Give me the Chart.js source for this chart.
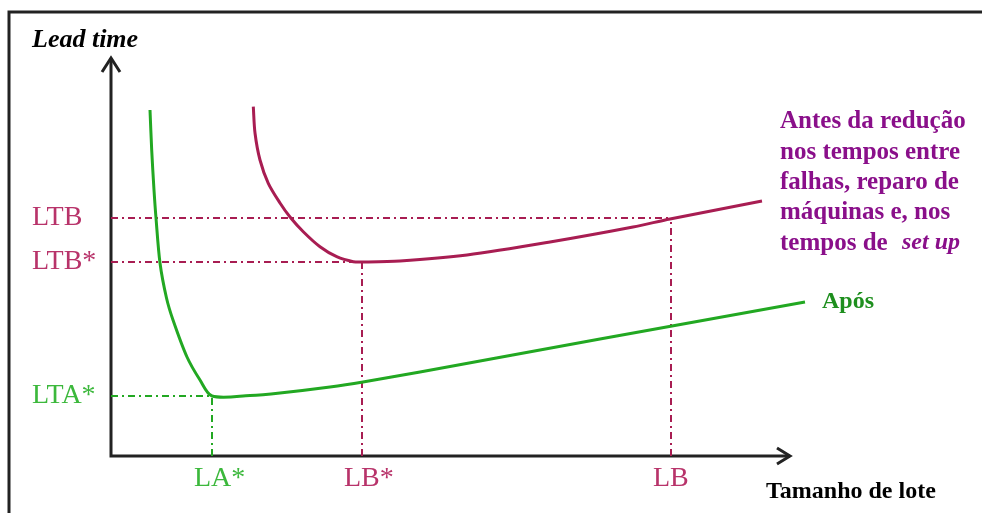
<!DOCTYPE html>
<html>
<head>
<meta charset="utf-8">
<script src="https://cdn.jsdelivr.net/npm/chart.js@4"></script>
<style>
html,body{margin:0;padding:0;background:#fff}
canvas{display:block}
</style>
</head>
<body>
<canvas id="c" width="982" height="513"></canvas>
<script>
// lot size (x) and lead time (y) in arbitrary units
const aposX = [3.9, 4.07, 4.3, 4.5, 4.9, 5.55, 6.2, 7.6, 8.9, 10.1, 13.9, 16.9, 21.9, 25.2, 30.9, 48.9, 69.4]
const aposY = [34.6, 30.6, 26.6, 23.8, 19.3, 15.8, 13.6, 9.9, 7.6, 6.0, 6.05, 6.3, 6.9, 7.4, 8.4, 11.7, 15.4]

const antesX = [14.23, 14.4, 14.9, 15.73, 16.9, 17.9, 19.23, 20.9, 22.57, 24.23, 25.2, 28.9, 35.6, 43.9, 52.2, 55.9, 65.1]
const antesY = [34.93, 32.3, 29.6, 27.27, 25.3, 23.9, 22.43, 20.93, 19.93, 19.43, 19.4, 19.5, 20.1, 21.4, 22.9, 23.7, 25.5]

const yTickLabels = ["LTB", "LTB*", "LTA*"]
const yTickValues = [23.8, 19.4, 6.0]
const xTickLabels = ["LA*", "LB*", "LB"]
const xTickValues = [10.1, 25.1, 56.0]

const antesText = ["Antes da redução", "nos tempos entre", "falhas, reparo de", "máquinas e, nos", "tempos de"]

const RED = "#a81d52"
const RED_TXT = "#b8336a"
const GREEN = "#22a822"
const GREEN_TXT = "#3cb83c"
const DASH = [7, 4, 2, 4]

function pts(xs, ys){
  return xs.map((x,i)=>({x:x, y:ys[i]}))
}

function guide(x0,y0,x1,y1,color){
  return {
    data:[{x:x0,y:y0},{x:x1,y:y1}],
    borderColor:color, borderWidth:2, borderDash:DASH,
    pointRadius:0, tension:0, showLine:true
  }
}

// LTB, LTB*, LTA* horizontals and LB, LB*, LA* verticals
const guides = [
  guide(0, yTickValues[0], xTickValues[2], yTickValues[0], RED),
  guide(0, yTickValues[1], xTickValues[1], yTickValues[1], RED),
  guide(0, yTickValues[2], xTickValues[0], yTickValues[2], GREEN),
  guide(xTickValues[2], 0, xTickValues[2], yTickValues[0], RED),
  guide(xTickValues[1], 0, xTickValues[1], yTickValues[1], RED),
  guide(xTickValues[0], 0, xTickValues[0], yTickValues[2], GREEN)
]

const decor = {
  id:"decor",
  beforeDatasetsDraw(chart){
    const ctx = chart.ctx
    const xs = chart.scales.x, ys = chart.scales.y
    const ox = xs.getPixelForValue(0), oy = ys.getPixelForValue(0)
    ctx.save()
    // frame
    ctx.strokeStyle="#222"
    ctx.lineWidth=3
    ctx.beginPath()
    ctx.moveTo(9,513); ctx.lineTo(9,12); ctx.lineTo(982,12)
    ctx.stroke()
    // axes with arrows
    const top = ys.getPixelForValue(39.8)
    const right = xs.getPixelForValue(67.9)
    ctx.lineWidth=3
    ctx.beginPath()
    ctx.moveTo(ox,top); ctx.lineTo(ox,oy); ctx.lineTo(right,oy)
    ctx.stroke()
    ctx.beginPath()
    ctx.moveTo(ox-9,top+14); ctx.lineTo(ox,top); ctx.lineTo(ox+9,top+14)
    ctx.moveTo(right-13,oy-8); ctx.lineTo(right,oy); ctx.lineTo(right-13,oy+8)
    ctx.stroke()
    ctx.restore()
  },
  afterDatasetsDraw(chart){
    const ctx = chart.ctx
    const xs = chart.scales.x, ys = chart.scales.y
    ctx.save()
    ctx.textBaseline="middle"
    ctx.textAlign="left"
    // y tick labels
    ctx.font="28px 'Liberation Serif'"
    yTickLabels.forEach((t,i)=>{
      ctx.fillStyle = i<2 ? RED_TXT : GREEN_TXT
      ctx.fillText(t, 32, ys.getPixelForValue(yTickValues[i]))
    })
    // x tick labels
    xTickLabels.forEach((t,i)=>{
      ctx.fillStyle = i==0 ? GREEN_TXT : RED_TXT
      ctx.fillText(t, xs.getPixelForValue(xTickValues[i])-18, 479)
    })
    // axis titles
    ctx.fillStyle="#000"
    ctx.font="bold italic 26px 'Liberation Serif'"
    ctx.fillText("Lead time", 32, 40)
    ctx.font="bold 24px 'Liberation Serif'"
    ctx.fillText("Tamanho de lote", 766, 492)
    // series notes
    ctx.fillStyle="#8a0f8a"
    ctx.font="bold 25px 'Liberation Serif'"
    antesText.forEach((t,i)=>{
      ctx.fillText(t, 780, 122 + i*30.3)
    })
    ctx.font="bold italic 24px 'Liberation Serif'"
    ctx.fillText("set up", 902, 243)
    ctx.fillStyle="#1e8f1e"
    ctx.font="bold 24px 'Liberation Serif'"
    ctx.fillText("Após", 822, 302)
    ctx.restore()
  }
}

new Chart(document.getElementById("c"),{
  type:"scatter",
  data:{
    datasets:[
      {label:"Antes", data:pts(antesX,antesY), borderColor:RED, borderWidth:3,
       showLine:true, pointRadius:0, tension:0.3},
      {label:"Após", data:pts(aposX,aposY), borderColor:GREEN, borderWidth:3,
       showLine:true, pointRadius:0, tension:0.3},
      ...guides
    ]
  },
  options:{
    responsive:false,
    animation:false,
    layout:{padding:0},
    plugins:{legend:{display:false}, tooltip:{enabled:false}},
    scales:{
      x:{type:"linear", display:false, min:-11.1, max:87.1},
      y:{type:"linear", display:false, min:-5.7, max:45.6}
    }
  },
  plugins:[decor]
})
</script>
</body>
</html>
